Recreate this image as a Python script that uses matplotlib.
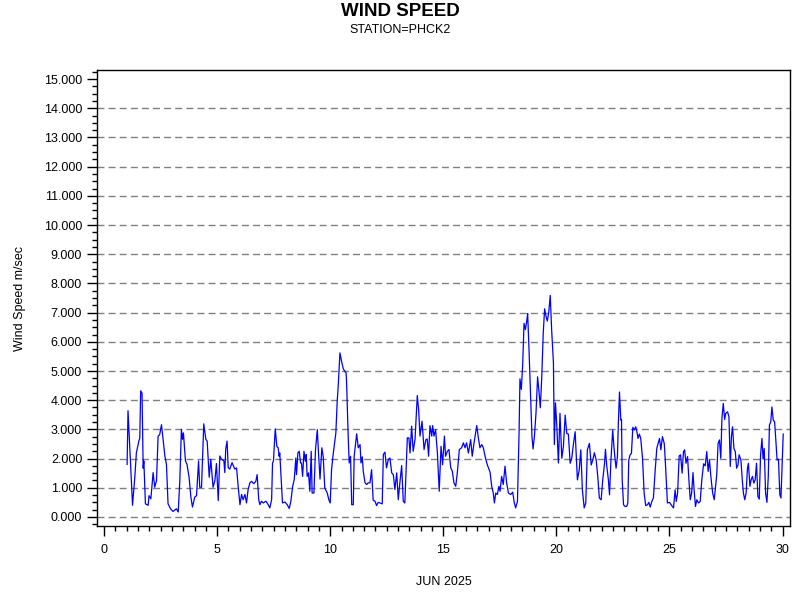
import matplotlib
matplotlib.use("Agg")
import matplotlib.pyplot as plt
from matplotlib.ticker import MultipleLocator, FormatStrFormatter

plt.rcParams['font.family'] = ['Liberation Sans', 'DejaVu Sans']

title = "WIND SPEED"
subtitle = "STATION=PHCK2"
xlabel = "JUN 2025"
ylabel = "Wind Speed m/sec"

days = [
    1.02, 1.06, 1.26, 1.36, 1.43, 1.54, 1.58, 1.62, 1.68, 1.73, 1.76, 1.83, 1.95, 1.99, 2.07, 2.17,
    2.24, 2.32, 2.39, 2.46, 2.54, 2.61, 2.69, 2.76, 2.83, 2.94, 3.05, 3.20, 3.28, 3.35, 3.42, 3.47,
    3.51, 3.60, 3.67, 3.76, 3.84, 3.91, 4.01, 4.09, 4.18, 4.23, 4.31, 4.41, 4.50, 4.56, 4.65, 4.72,
    4.82, 4.90, 4.97, 5.05, 5.12, 5.19, 5.30, 5.34, 5.38, 5.44, 5.49, 5.56, 5.66, 5.78,
    5.86, 5.93, 6.01, 6.08, 6.15, 6.23, 6.30, 6.37, 6.45, 6.52, 6.62, 6.71, 6.77, 6.84, 6.89, 6.96,
    7.04, 7.16, 7.26, 7.33, 7.41, 7.45, 7.49, 7.57, 7.64, 7.70, 7.74, 7.77, 7.85, 7.89, 8.00, 8.10,
    8.19, 8.26, 8.34, 8.41, 8.48, 8.51, 8.57, 8.63, 8.69, 8.73, 8.78, 8.84, 8.90, 8.94, 8.98, 9.04,
    9.10, 9.16, 9.20, 9.28, 9.35, 9.43, 9.49, 9.55, 9.63, 9.69, 9.76, 9.87, 9.94, 10.00, 10.06, 10.13,
    10.25, 10.31, 10.35, 10.43, 10.50, 10.58, 10.65,
    10.70, 10.72, 10.80, 10.84, 10.90, 10.95, 11.02, 11.06, 11.17, 11.24, 11.32, 11.36, 11.42, 11.46,
    11.54, 11.61, 11.68, 11.76, 11.83, 11.90, 11.98, 12.05, 12.12, 12.20, 12.30, 12.35, 12.42, 12.49,
    12.57, 12.64, 12.72, 12.79, 12.86, 12.94, 13.01, 13.08, 13.16, 13.23, 13.30, 13.41, 13.48, 13.53,
    13.60, 13.67, 13.75, 13.85, 13.91, 13.97, 14.06, 14.15, 14.23, 14.29, 14.35, 14.41, 14.49, 14.53,
    14.59, 14.66, 14.74, 14.82, 14.90, 14.97, 15.05, 15.10, 15.18, 15.25, 15.33, 15.40, 15.47, 15.55,
    15.62, 15.71, 15.81, 15.89, 15.96, 16.03, 16.11, 16.21, 16.28, 16.36, 16.48, 16.55, 16.62, 16.70,
    16.77, 16.88, 16.96, 17.07, 17.14, 17.21, 17.26, 17.32, 17.39, 17.46, 17.51, 17.58, 17.65, 17.73,
    17.80, 17.88, 17.98, 18.07, 18.14, 18.20, 18.28, 18.35,
    18.39, 18.45, 18.51, 18.57, 18.63, 18.69, 18.73, 18.79, 18.85, 18.92, 18.97, 19.03, 19.10, 19.17,
    19.23, 19.29, 19.35, 19.42, 19.48, 19.54, 19.60, 19.66, 19.73, 19.79, 19.87, 19.91, 19.96, 20.02,
    20.09,
    20.16, 20.24, 20.31, 20.39, 20.46, 20.53, 20.61, 20.68, 20.75, 20.83, 20.93, 21.01, 21.08, 21.15,
    21.23, 21.30, 21.37, 21.46, 21.54, 21.61, 21.68, 21.76, 21.83, 21.90, 21.98, 22.05, 22.13, 22.17,
    22.23, 22.30, 22.35, 22.41, 22.45, 22.49, 22.55, 22.60, 22.64, 22.70, 22.74, 22.79, 22.85, 22.88,
    22.91, 22.97, 23.04, 23.11, 23.16, 23.20, 23.26, 23.32, 23.38, 23.44, 23.51, 23.56, 23.61, 23.67,
    23.73, 23.81, 23.88, 23.95, 24.03, 24.09, 24.15, 24.22, 24.29, 24.37, 24.44, 24.50, 24.56, 24.62,
    24.69, 24.77, 24.81, 24.86, 24.91, 25.00,
    25.10, 25.18, 25.25, 25.30, 25.36, 25.43, 25.49, 25.56, 25.62, 25.67, 25.73, 25.80, 25.86, 25.92,
    25.98, 26.04, 26.09, 26.15, 26.21, 26.28, 26.36, 26.43, 26.51, 26.58, 26.65, 26.71, 26.77, 26.83,
    26.91, 26.98, 27.04, 27.09, 27.15, 27.21, 27.27, 27.32, 27.38, 27.44, 27.49, 27.57, 27.63, 27.69,
    27.74, 27.79, 27.85, 27.91, 27.97, 28.03, 28.08, 28.16, 28.22, 28.27, 28.33, 28.39, 28.45, 28.49,
    28.56, 28.61, 28.67, 28.73, 28.79, 28.85, 28.91, 28.97, 29.03, 29.09, 29.14, 29.19, 29.25, 29.31,
    29.37, 29.42, 29.48, 29.53, 29.59, 29.65, 29.70, 29.76, 29.82, 29.88, 29.93, 29.98, 30.03,
]

speed = [
    1.80, 3.64, 0.40, 1.36, 2.20, 2.60, 2.70, 4.32, 4.24, 1.67, 1.92, 0.45, 0.40, 0.73, 0.62, 1.52,
    1.02, 1.24, 2.77, 2.82, 3.16, 2.66, 2.09, 1.80, 0.45, 0.28, 0.19, 0.28, 0.17, 1.24, 3.00, 2.66,
    2.88, 1.92, 1.80, 1.36, 0.68, 0.34, 0.68, 0.73, 1.92, 1.02, 1.02, 3.19, 2.66, 2.60, 1.36, 1.98,
    1.02, 1.24, 1.83, 0.56, 2.09, 1.98, 1.92, 1.52, 2.32, 2.60, 1.69, 1.64, 1.86, 1.64,
    1.68, 1.05, 0.42, 0.77, 0.59, 0.77, 0.48, 0.94, 1.17, 1.22, 1.14, 1.22, 1.45, 0.59, 0.42, 0.54,
    0.48, 0.54, 0.42, 0.31, 0.59, 1.85, 1.91, 3.02, 2.42, 2.37, 2.08, 2.19, 1.05, 0.48, 0.51, 0.42,
    0.29, 0.54, 1.05, 1.28, 2.02, 1.45, 2.19, 2.25, 1.85, 1.85, 1.39, 2.25, 1.91, 2.14, 1.39, 1.51,
    0.88, 2.25, 0.82, 0.82, 2.31, 2.99, 2.08, 1.30, 2.37, 2.08, 0.99, 0.82, 0.59, 0.48, 1.62, 2.14,
    2.88, 3.97, 4.42, 5.62, 5.34, 5.07, 4.99,
    4.94, 4.71, 2.65, 1.85, 2.08, 0.42, 0.42, 2.08, 2.85, 2.37, 2.48, 1.85, 2.06, 1.57,
    1.17, 1.11, 1.17, 1.17, 1.62, 0.57, 0.54, 0.39, 0.50, 0.48, 0.45, 2.14, 2.22, 1.68,
    1.97, 2.02, 1.51, 1.45, 0.94, 1.51, 0.59, 1.17, 1.76, 0.54, 0.48, 2.71, 2.71, 2.19,
    3.11, 2.25, 2.65, 4.16, 3.68, 2.77, 3.28, 2.31, 2.65, 2.67, 2.08, 3.13, 2.77, 3.13,
    2.77, 2.99, 2.19, 0.88, 2.42, 1.79, 2.77, 2.08, 2.25, 2.31, 1.68, 1.57, 1.17, 1.05,
    1.51, 2.31, 2.37, 2.54, 2.37, 2.54, 2.19, 2.65, 2.08, 2.54, 3.13, 2.71, 2.37, 2.48,
    2.37, 1.97, 1.76, 1.53, 1.05, 0.82, 0.48, 0.82, 0.77, 1.05, 0.88, 1.39, 1.11, 1.74,
    1.17, 0.82, 0.77, 0.85, 0.48, 0.31, 0.54, 2.88,
    4.73, 4.37, 5.22, 6.63, 6.42, 6.71, 6.97, 5.74, 4.37, 2.77, 2.33, 2.77, 3.57, 4.80,
    4.31, 3.74, 4.71, 6.31, 7.13, 6.88, 6.71, 6.99, 7.59, 6.42, 5.28, 2.48, 3.91, 3.11,
    1.85,
    3.55, 2.01, 2.41, 3.49, 2.86, 2.84, 1.84, 2.01, 2.47, 2.92, 1.27, 1.61, 2.30, 0.93,
    0.31, 0.48, 2.30, 2.52, 1.78, 1.95, 2.20, 1.95, 1.39, 0.65, 0.59, 1.27, 1.84, 2.32,
    1.73, 1.27, 0.76, 1.90, 2.41, 2.98, 2.35, 1.95, 1.67, 2.07, 3.20, 4.28, 3.32, 3.34,
    1.27, 0.42, 0.36, 0.36, 0.48, 1.95, 2.13, 2.18, 3.07, 2.98, 3.09, 2.92, 2.69, 2.84,
    2.69, 2.01, 0.82, 0.39, 0.42, 0.50, 0.34, 0.53, 0.65, 1.61, 2.35, 2.52, 2.69, 2.30,
    2.75, 2.52, 2.01, 1.27, 0.48, 0.50,
    0.39, 0.31, 0.93, 0.53, 0.82, 2.09, 2.13, 1.50, 2.24, 2.30, 1.84, 2.07, 1.27, 0.59,
    0.82, 1.52, 0.93, 0.36, 0.59, 0.48, 0.53, 1.27, 1.82, 1.75, 2.24, 1.56, 1.95, 1.39,
    0.82, 0.59, 1.05, 1.44, 2.52, 2.64, 2.01, 3.38, 3.89, 3.34, 3.55, 3.60, 3.43, 1.73,
    2.75, 3.09, 2.35, 2.24, 1.67, 1.78, 2.13, 1.95, 1.27, 0.82, 0.59, 0.82, 1.67, 1.84,
    1.05, 1.27, 1.39, 1.16, 1.27, 1.84, 0.70, 0.61, 2.13, 2.69, 1.98, 2.35, 0.82, 0.50,
    1.39, 3.15, 3.26, 3.77, 3.32, 3.26, 2.64, 1.95, 1.98, 0.76, 0.65, 1.73, 2.84,
]

x_ticks = [0, 5, 10, 15, 20, 25, 30]
y_ticks = list(range(0, 16))

fig = plt.figure(figsize=(8, 6), dpi=100)
ax = fig.add_axes([0.121, 0.1233, 0.8665, 0.76])

ax.plot(days, speed, color='#0000FF', linewidth=0.9)

ax.set_xlim(-0.32, 30.33)
ax.set_ylim(-0.31, 15.31)
ax.set_xticks(x_ticks)
ax.set_yticks(y_ticks)
ax.xaxis.set_minor_locator(MultipleLocator(0.5))
ax.yaxis.set_minor_locator(MultipleLocator(0.25))
ax.yaxis.set_major_formatter(FormatStrFormatter('%.3f'))
ax.tick_params(axis='both', which='major', length=7, width=1, labelsize=9, direction='out', colors='black')
ax.tick_params(axis='both', which='minor', length=3.5, width=1, direction='out')
ax.tick_params(axis='x', which='major', pad=6)

ax.grid(axis='y', which='major', color='#808080', linestyle=(0, (5, 3)), linewidth=1)
ax.get_ygridlines()[-1].set_visible(False)
ax.set_axisbelow(True)

for s in ax.spines.values():
    s.set_linewidth(1)
    s.set_color('black')

ax.set_xlabel(xlabel, fontsize=9, labelpad=14)
ax.set_ylabel(ylabel, fontsize=9, labelpad=13)

fig.text(0.5, 1 - 11 / 600, title, ha='center', va='center', fontsize=13.5, fontweight='bold')
fig.text(0.5, 1 - 30 / 600, subtitle, ha='center', va='center', fontsize=9)

fig.savefig('out.png', dpi=100)
